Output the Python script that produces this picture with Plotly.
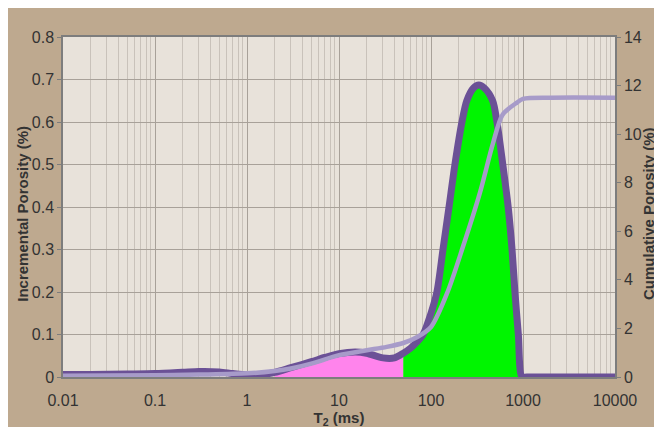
import plotly.graph_objects as go

# Incremental porosity distribution (left axis, %)
t2_inc = [0.01, 0.02, 0.05, 0.1, 0.2, 0.3, 0.5, 0.7, 1, 1.5, 2, 3, 5, 7, 10, 15, 20,
          30, 40, 50, 60, 70, 82, 100, 116, 135, 157, 182, 217, 245, 290, 331, 380,
          468, 521, 603, 690, 760, 817, 890, 975, 1100, 2000, 5000, 10000]
inc_por = [0.006, 0.006, 0.007, 0.008, 0.011, 0.013, 0.012, 0.008, 0.005, 0.006, 0.011,
           0.022, 0.036, 0.046, 0.055, 0.059, 0.056, 0.045, 0.045, 0.056, 0.068, 0.082,
           0.10, 0.15, 0.20, 0.30, 0.40, 0.50, 0.60, 0.65, 0.68, 0.687, 0.68, 0.65,
           0.60, 0.50, 0.40, 0.30, 0.20, 0.10, 0.0, 0.0, 0.0, 0.0, 0.0]

# Cumulative porosity (right axis, %)
t2_cum = [0.01, 0.1, 0.3, 1, 2, 3, 5, 10, 20, 33, 50, 71, 100, 150, 222, 340, 470,
          600, 860, 1000, 2000, 10000]
cum_por = [0.05, 0.07, 0.1, 0.15, 0.25, 0.35, 0.55, 0.9, 1.1, 1.24, 1.4, 1.65, 2.06,
           3.46, 5.35, 7.58, 9.6, 10.8, 11.3, 11.45, 11.5, 11.5]

# T2 cut-off separating the two shaded pore classes (ms)
cutoff = 50
fill_start = 2
fill_end = 1000

x_ticks = [0.01, 0.1, 1, 10, 100, 1000, 10000]
x_ticklabels = ["0.01", "0.1", "1", "10", "100", "1000", "10000"]
y_ticks = [0, 0.1, 0.2, 0.3, 0.4, 0.5, 0.6, 0.7, 0.8]
y_ticklabels = ["0", "0.1", "0.2", "0.3", "0.4", "0.5", "0.6", "0.7", "0.8"]
y2_ticks = [0, 2, 4, 6, 8, 10, 12, 14]

left_title = "Incremental Porosity (%)"
right_title = "Cumulative Porosity (%)"
x_title = "T<sub>2</sub> (ms)"

pink_x = [t for t in t2_inc if fill_start <= t <= cutoff]
pink_y = [v for t, v in zip(t2_inc, inc_por) if fill_start <= t <= cutoff]
green_x = [t for t in t2_inc if cutoff <= t <= fill_end]
green_y = [v for t, v in zip(t2_inc, inc_por) if cutoff <= t <= fill_end]

FONT = "Liberation Sans, Arial, sans-serif"
DARK = "#6b5196"
LIGHT = "#a79bc9"
TXT = "#333333"
TITLE_FONT = dict(family=FONT, size=15, color=TXT, weight="bold")

fig = go.Figure()
fig.add_trace(go.Scatter(x=pink_x, y=pink_y, mode="lines", fill="tozeroy",
                         fillcolor="#ff84ec", line=dict(width=0, shape="spline", smoothing=0.8),
                         hoverinfo="skip", showlegend=False))
fig.add_trace(go.Scatter(x=green_x, y=green_y, mode="lines", fill="tozeroy",
                         fillcolor="#00f500", line=dict(width=0, shape="spline", smoothing=0.8),
                         hoverinfo="skip", showlegend=False))
fig.add_trace(go.Scatter(x=t2_inc, y=inc_por, mode="lines",
                         line=dict(color=DARK, width=7, shape="spline", smoothing=0.8),
                         showlegend=False))
fig.add_trace(go.Scatter(x=t2_cum, y=cum_por, mode="lines", yaxis="y2",
                         line=dict(color=LIGHT, width=4.5, shape="spline", smoothing=0.8),
                         showlegend=False))

fig.update_layout(
    width=662, height=427,
    margin=dict(l=55, r=55, t=29, b=58, autoexpand=False),
    paper_bgcolor="#bea98f",
    plot_bgcolor="#e8e2da",
    font=dict(family=FONT, size=16, color=TXT),
    xaxis=dict(
        type="log", range=[-2, 4], tickvals=x_ticks, ticktext=x_ticklabels,
        showgrid=True, gridcolor="#a8a199", gridwidth=1,
        minor=dict(dtick="D1", showgrid=True, gridcolor="#c9c2ba", gridwidth=1, ticks=""),
        showline=True, linecolor="#7d7d7d", linewidth=1.5, mirror=True,
        ticks="", zeroline=False, automargin=False, ticklabelstandoff=8,
        title=dict(text=x_title, font=TITLE_FONT, standoff=0),
    ),
    yaxis=dict(
        range=[0, 0.8], tickvals=y_ticks, ticktext=y_ticklabels,
        showgrid=True, gridcolor="#a8a199", gridwidth=1, zeroline=False,
        showline=True, linecolor="#7d7d7d", linewidth=1.5,
        ticks="outside", ticklen=4, tickcolor="#7d7d7d", automargin=False,
    ),
    yaxis2=dict(
        range=[0, 14], tickvals=y2_ticks, overlaying="y", side="right",
        showgrid=False, zeroline=False,
        showline=True, linecolor="#7d7d7d", linewidth=1.5,
        ticks="outside", ticklen=4, tickcolor="#7d7d7d", automargin=False,
    ),
    annotations=[
        dict(text=left_title, xref="paper", yref="paper", x=-0.0725, y=0.48,
             xanchor="center", yanchor="middle", textangle=-90, showarrow=False,
             font=TITLE_FONT),
        dict(text=right_title, xref="paper", yref="paper", x=1.062, y=0.48,
             xanchor="center", yanchor="middle", textangle=-90, showarrow=False,
             font=TITLE_FONT),
    ],
)

fig.write_html("out.html")
